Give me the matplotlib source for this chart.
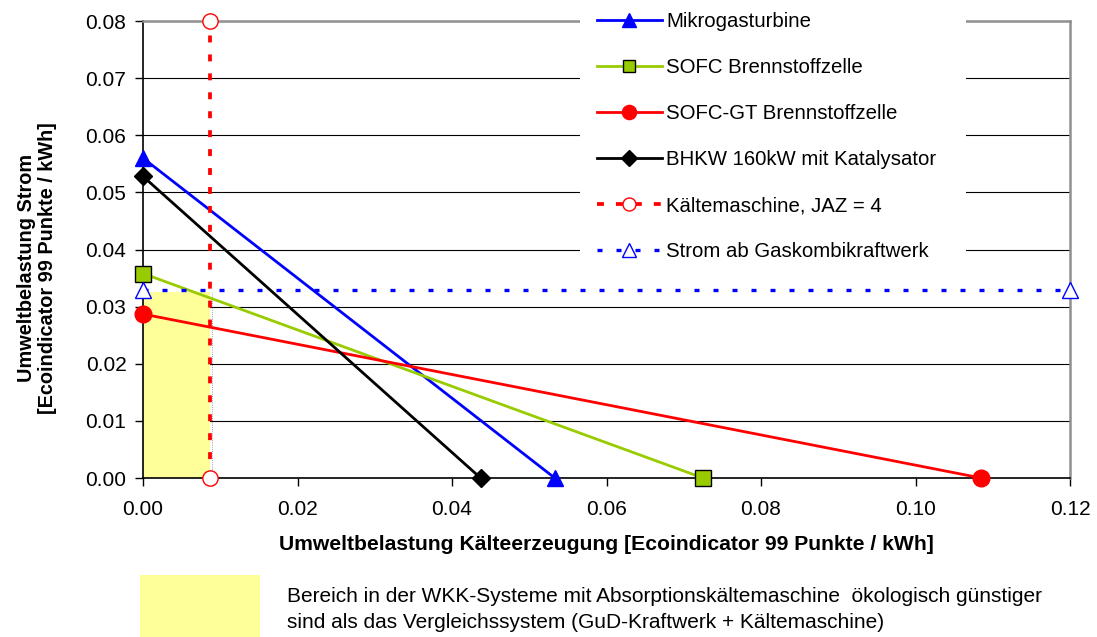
import numpy as np
import matplotlib.pyplot as plt
from matplotlib.patches import Rectangle

plt.rcParams['font.family'] = ['Liberation Sans', 'DejaVu Sans']

# Umweltbelastung: Strom (y) gegen Kaelteerzeugung (x), jeweils Achsenabschnitte
mgt_x = [0.0, 0.0533]
mgt_y = [0.0560, 0.0]
sofc_x = [0.0, 0.0725]
sofc_y = [0.0358, 0.0]
sofcgt_x = [0.0, 0.1085]
sofcgt_y = [0.0287, 0.0]
bhkw_x = [0.0, 0.0437]
bhkw_y = [0.0528, 0.0]
kaelte_x = [0.0087, 0.0087]
kaelte_y = [0.0, 0.08]
gud_x = [0.0, 0.12]
gud_y = [0.0329, 0.0329]

labels = ['Mikrogasturbine', 'SOFC Brennstoffzelle', 'SOFC-GT Brennstoffzelle',
          'BHKW 160kW mit Katalysator', 'Kältemaschine, JAZ = 4',
          'Strom ab Gaskombikraftwerk']
xticks = [0.0, 0.02, 0.04, 0.06, 0.08, 0.10, 0.12]
yticks = [0.0, 0.01, 0.02, 0.03, 0.04, 0.05, 0.06, 0.07, 0.08]

W, H = 1097, 637
fig = plt.figure(figsize=(W / 100, H / 100), dpi=100)
ax = fig.add_axes([0.1304, 0.2496, 0.845, 0.7174])

# Bereich, in dem WKK guenstiger ist
ax.add_patch(Rectangle((0, 0), kaelte_x[0], gud_y[0] - 0.0004, facecolor='#FFFF99',
                       edgecolor='none', zorder=1))
ax.plot([kaelte_x[0] + 0.0002] * 2, [0, gud_y[0] - 0.0004], color='#808080',
        lw=0.6, ls=':', zorder=1)

lw = 2.0
ax.plot(mgt_x, mgt_y, color='#0000FF', lw=lw, marker='^', ms=12,
        label=labels[0], clip_on=False, zorder=5)
ax.plot(sofc_x, sofc_y, color='#99CC00', lw=lw, marker='s', ms=11, mfc='#99CC00',
        mec='#000000', mew=1.0, label=labels[1], clip_on=False, zorder=5)
ax.plot(sofcgt_x, sofcgt_y, color='#FF0000', lw=lw, marker='o', ms=12,
        label=labels[2], clip_on=False, zorder=5)
ax.plot(bhkw_x, bhkw_y, color='#000000', lw=lw, marker='D', ms=9,
        label=labels[3], clip_on=False, zorder=5)
ax.plot(kaelte_x, kaelte_y, color='#FF0000', lw=2.7, dashes=(1.85, 3.2), marker='o',
        ms=11, mfc='white', mec='#FF0000', mew=1.0, label=labels[4],
        clip_on=False, zorder=6)
ax.plot(gud_x, gud_y, color='#0000FF', lw=2.4, dashes=(1.5, 4.2), marker='^', ms=12,
        mfc='white', mec='#0000FF', mew=1.0, label=labels[5],
        clip_on=False, zorder=6)

ax.set_xlim(0, 0.12)
ax.set_ylim(0, 0.08)
ax.set_xticks(xticks)
ax.set_yticks(yticks)
ax.set_xticklabels(['%.2f' % v for v in xticks], fontsize=15)
ax.set_yticklabels(['%.2f' % v for v in yticks], fontsize=15)
ax.tick_params(axis='both', direction='out', length=6, width=1, color='black', pad=6)
ax.tick_params(axis='x', pad=10)
ax.yaxis.grid(True, color='black', lw=0.8, zorder=0)
ax.set_axisbelow(True)
for side in ['left', 'bottom']:
    ax.spines[side].set_color('black')
    ax.spines[side].set_linewidth(1.2)
for side in ['right', 'top']:
    ax.spines[side].set_color('#909090')
    ax.spines[side].set_linewidth(1.8)

# Achsentitel
fig.text(606 / W, 1 - 545 / H,
         'Umweltbelastung Kälteerzeugung [Ecoindicator 99 Punkte / kWh]',
         fontsize=15.2, fontweight='bold', ha='center', va='center')
fig.text(37 / W, 1 - 268 / H,
         'Umweltbelastung Strom\n[Ecoindicator 99 Punkte / kWh]',
         fontsize=14.3, fontweight='bold', ha='center', va='center',
         rotation=90, linespacing=1.1, multialignment='center')

# weisser Hintergrund der Legende bis zum rechten Rand
ax.add_patch(Rectangle((580 / W, 1 - 272 / H), 386 / W, 272 / H, facecolor='white',
                       edgecolor='none', transform=fig.transFigure, clip_on=False,
                       zorder=2.6))
leg = ax.legend(loc='upper left', bbox_to_anchor=(0.5373, 0.992),
                bbox_transform=fig.transFigure,
                fontsize=14.7, frameon=True, fancybox=False, edgecolor='white',
                framealpha=1.0, labelspacing=1.32, handlelength=3.2, handletextpad=0.2,
                borderpad=0.35, borderaxespad=0.0, markerscale=0.85)
leg.set_zorder(10)

# Erklaerung der gelben Flaeche unter der Grafik
fig.patches.append(Rectangle((140 / W, 0), 120 / W, 62 / H, facecolor='#FFFF99',
                             edgecolor='none', transform=fig.transFigure, figure=fig))
fig.text(287 / W, 1 - 597 / H,
         'Bereich in der WKK-Systeme mit Absorptionskältemaschine  ökologisch günstiger',
         fontsize=15, va='center', ha='left')
fig.text(287 / W, 1 - 622 / H,
         'sind als das Vergleichssystem (GuD-Kraftwerk + Kältemaschine)',
         fontsize=15, va='center', ha='left')

fig.savefig('out.png', dpi=100)
